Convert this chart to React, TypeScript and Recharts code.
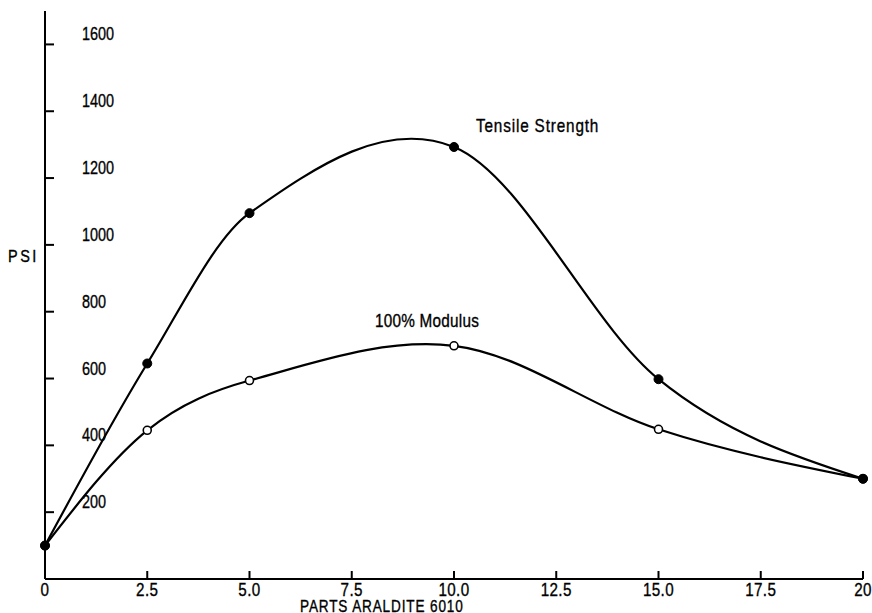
import React from "react";
import { LineChart, Line, XAxis, YAxis } from "recharts";

const xValues = [0, 2.5, 5, 10, 15, 20];
const tensileStrength = [100, 645, 1095, 1293, 598, 300];
const modulus100 = [100, 445, 594, 698, 448, 300];
const xTicks = [0, 2.5, 5, 7.5, 10, 12.5, 15, 17.5, 20];
const xTickLabels = ["0", "2.5", "5.0", "7.5", "10.0", "12.5", "15.0", "17.5", "20"];
const yTicks = [200, 400, 600, 800, 1000, 1200, 1400, 1600];

const data = xValues.map((x, i) => ({ x, tensile: tensileStrength[i], modulus: modulus100[i] }));

const FONT = '"Liberation Sans", Arial, sans-serif';

// Smooth cubic Hermite curve through the points, with x-aware tangents.
function smoothCurve(context: any) {
  let xs: number[] = [];
  let ys: number[] = [];
  return {
    areaStart() {},
    areaEnd() {},
    lineStart() {
      xs = [];
      ys = [];
    },
    point(x: number, y: number) {
      xs.push(+x);
      ys.push(+y);
    },
    lineEnd() {
      const n = xs.length;
      if (!n) return;
      context.moveTo(xs[0], ys[0]);
      if (n === 1) return;
      const m: number[] = new Array(n);
      for (let i = 1; i < n - 1; i++) m[i] = (ys[i + 1] - ys[i - 1]) / (xs[i + 1] - xs[i - 1]);
      const d0 = (ys[1] - ys[0]) / (xs[1] - xs[0]);
      const dn = (ys[n - 1] - ys[n - 2]) / (xs[n - 1] - xs[n - 2]);
      m[0] = n > 2 ? (3 * d0 - m[1]) / 2 : d0;
      m[n - 1] = n > 2 ? (3 * dn - m[n - 2]) / 2 : dn;
      for (let i = 0; i < n - 1; i++) {
        const h = xs[i + 1] - xs[i];
        context.bezierCurveTo(
          xs[i] + h / 3,
          ys[i] + (m[i] * h) / 3,
          xs[i + 1] - h / 3,
          ys[i + 1] - (m[i + 1] * h) / 3,
          xs[i + 1],
          ys[i + 1]
        );
      }
    },
  };
}

const NText = (p: any) => (
  <text
    transform={`translate(${p.x},${p.y}) scale(${p.sx ?? 0.85},1)`}
    textAnchor={p.anchor ?? "start"}
    fontFamily={FONT}
    fontSize={p.size ?? 18}
    letterSpacing={p.ls ?? 0}
    fill="#000"
    stroke="#000"
    strokeWidth={0.35}
  >
    {p.children}
  </text>
);

const XTick = (props: any) => {
  const { x, y, payload } = props;
  const idx = xTicks.indexOf(payload.value);
  return (
    <g>
      {payload.value !== 0 && <line x1={x} y1={y} x2={x} y2={y - 8} stroke="#000" strokeWidth={2} />}
      <NText x={x} y={y + 17} anchor="middle" size={19} sx={0.8} ls={0.5}>
        {xTickLabels[idx]}
      </NText>
    </g>
  );
};

const YTick = (props: any) => {
  const { x, y, payload } = props;
  return (
    <g>
      <line x1={x} y1={y} x2={x + 9} y2={y} stroke="#000" strokeWidth={2} />
      <NText x={x + 37} y={y - 4} size={19} sx={0.76}>
        {payload.value}
      </NText>
    </g>
  );
};

const FilledDot = (props: any) => {
  const { cx, cy } = props;
  return <circle cx={cx} cy={cy} r={4.5} fill="#000" stroke="#000" strokeWidth={1} />;
};

const OpenDot = (props: any) => {
  const { cx, cy } = props;
  return <circle cx={cx} cy={cy} r={4} fill="#fff" stroke="#000" strokeWidth={1.6} />;
};

export default function App() {
  return (
    <div style={{ position: "absolute", left: 0, top: 0, width: 872, height: 613, background: "#fff" }}>
      <LineChart width={872} height={613} data={data} margin={{ top: 11, right: 9, left: 44, bottom: 4 }}>
        <XAxis
          dataKey="x"
          type="number"
          domain={[0, 20]}
          ticks={xTicks}
          tick={<XTick />}
          tickLine={false}
          tickSize={0}
          tickMargin={0}
          height={30}
          axisLine={{ stroke: "#000", strokeWidth: 2 }}
          interval={0}
        />
        <YAxis
          type="number"
          domain={[0, 1700]}
          ticks={yTicks}
          tick={<YTick />}
          tickLine={false}
          tickSize={0}
          tickMargin={0}
          width={1}
          axisLine={{ stroke: "#000", strokeWidth: 2 }}
          interval={0}
        />
        <Line
          type={smoothCurve as any}
          dataKey="modulus"
          stroke="#000"
          strokeWidth={2.2}
          dot={<OpenDot />}
          isAnimationActive={false}
        />
        <Line
          type={smoothCurve as any}
          dataKey="tensile"
          stroke="#000"
          strokeWidth={2.2}
          dot={<FilledDot />}
          isAnimationActive={false}
        />
      </LineChart>
      <div style={{ position: "absolute", left: 0, top: 0, pointerEvents: "none" }}>
        <svg width={872} height={613}>
          <NText x={476} y={132} size={18} sx={0.85} ls={1}>Tensile Strength</NText>
          <NText x={375} y={327} size={18} sx={0.85} ls={0.3}>100% Modulus</NText>
          <NText x={8} y={262} size={17} sx={0.85} ls={3}>PSI</NText>
          <NText x={300} y={612} size={16} sx={0.85} ls={1}>PARTS ARALDITE 6010</NText>
        </svg>
      </div>
    </div>
  );
}
